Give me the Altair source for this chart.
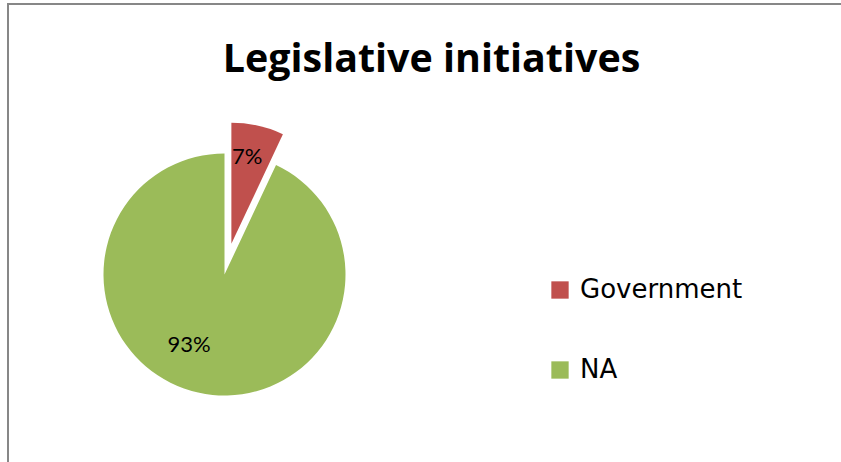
import altair as alt
import pandas as pd

# ---- data ----
categories = ["Government", "NA"]
values = [7, 93]
labels = ["7%", "93%"]
title_text = ["Legislative initiatives"]
colors = ["#C0504D", "#9BBB59"]

df = pd.DataFrame({"category": categories, "value": values, "label": labels,
                   "order": list(range(len(categories)))})

CX, CY, R = 224.5, 274.5, 121
W, H = 841, 462

base = alt.Chart(df).transform_window(
    cum="sum(value)", sort=[alt.SortField("order")], frame=[None, 0]
).transform_joinaggregate(
    total="sum(value)"
).transform_calculate(
    t1="2*PI*datum.cum/datum.total",
    t0="2*PI*(datum.cum-datum.value)/datum.total",
).transform_calculate(
    mid="(datum.t0+datum.t1)/2",
    ex="datum.category == 'Government' ? 31.5 : 0",
).transform_calculate(
    cx=f"{CX} + datum.ex*sin(datum.mid)",
    cy=f"{CY} - datum.ex*cos(datum.mid)",
    la="datum.category == 'NA' ? datum.mid + 0.245 : datum.mid - 0.04",
    lr="datum.category == 'NA' ? 79 : 88",
).transform_calculate(
    lx="datum.cx + datum.lr*sin(datum.la)",
    ly="datum.cy - datum.lr*cos(datum.la)",
)

arcs = base.mark_arc(outerRadius=R).encode(
    x=alt.X("cx:Q", scale=None),
    y=alt.Y("cy:Q", scale=None),
    theta=alt.Theta("t0:Q", scale=None, stack=False),
    theta2="t1:Q",
    color=alt.Color(
        "category:N",
        scale=alt.Scale(domain=categories, range=colors),
        legend=alt.Legend(
            orient="none", legendX=547, legendY=277, title=None,
            symbolType="square", symbolSize=300, symbolStrokeWidth=0,
            labelFont="DejaVu Sans", labelFontSize=26, labelColor="#000000",
            labelLimit=400, rowPadding=54, labelOffset=7,
        ),
    ),
)

pct = base.mark_text(font="Lato", fontSize=22, color="#000000",
                     align="center", baseline="middle").encode(
    x=alt.X("lx:Q", scale=None),
    y=alt.Y("ly:Q", scale=None),
    text="label:N",
)

title = alt.Chart(pd.DataFrame({"t": title_text})).mark_text(
    font="Open Sans", fontWeight="bold", fontSize=39.4, color="#000000",
    align="center", baseline="alphabetic"
).encode(x=alt.value(431.5), y=alt.value(72), text="t:N")

one = pd.DataFrame({"a": [0]})
border_left = alt.Chart(one).mark_rule(color="#878787", strokeWidth=2).encode(
    x=alt.value(8), y=alt.value(3), y2=alt.value(H))
border_top = alt.Chart(one).mark_rule(color="#878787", strokeWidth=2).encode(
    x=alt.value(7), x2=alt.value(W), y=alt.value(4))

chart = alt.layer(border_left, border_top, arcs, pct, title).properties(
    width=W, height=H, autosize=alt.AutoSizeParams(type="none"), padding=0,
    background="white",
).configure_view(stroke=None)

chart.save("out.html", embed_options={"renderer": "svg", "actions": False})
